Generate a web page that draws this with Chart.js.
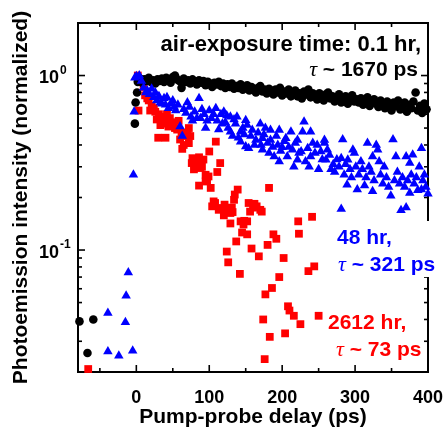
<!DOCTYPE html>
<html><head><meta charset="utf-8">
<script src="https://cdn.jsdelivr.net/npm/chart.js@4.4.0/dist/chart.umd.min.js"></script>
<style>html,body{margin:0;padding:0;background:#fff;overflow:hidden}#wrap{width:444px;height:428px;position:relative}</style>
</head><body><div id="wrap"><canvas id="c" width="444" height="428"></canvas></div>
<script>
// ---- axis definitions ----
const xTickValues = [0, 100, 200, 300, 400];
const xMinorTicks = [-50, 50, 150, 250, 350];
const yMajorTicks = [0.1, 1];
const yTickBase = '10';
const yTickExponents = ['-1', '0'];
const yMinorTicks = [0.03,0.04,0.05,0.06,0.07,0.08,0.09,0.2,0.3,0.4,0.5,0.6,0.7,0.8,0.9,2];
const xTitle = 'Pump-probe delay (ps)';
const yTitle = 'Photoemission intensity (normalized)';

// ---- series: 0.1 hr (black circles) ----
const blackPoints = [
[-78,0.039],[-67,0.0257],[-59,0.040],[-2,0.53],[-1,0.70],[1,0.80],[2,0.92],
[5,0.96],[8,0.91],[11,0.95],[14,0.93],[17,0.97],[20,0.92],[23,0.94],[26,0.90],[29,0.95],[32,0.93],
[35,0.96],[38,0.92],[41,0.97],[44,0.94],[47,0.91],[50,0.98],[53,1.00],[56,0.95],[59,0.93],[62,0.85],
[65,0.96],[68,0.92],[71,0.94],[74,0.90],[77,0.95],[80,0.93],[83,0.89],[86,0.94],[89,0.91],[92,0.93],
[95,0.88],[98,0.92],[101,0.90],[104,0.86],[107,0.91],[110,0.89],[113,0.92],[116,0.87],[119,0.90],[122,0.85],
[125,0.89],[128,0.86],[131,0.90],[134,0.84],[137,0.87],[140,0.85],[143,0.89],[146,0.83],[149,0.86],[152,0.88],
[155,0.82],[158,0.86],[161,0.84],[164,0.80],[167,0.85],[170,0.87],[173,0.81],[176,0.83],[179,0.79],[182,0.84],
[185,0.82],[188,0.78],[191,0.83],[194,0.80],[197,0.85],[200,0.77],[203,0.81],[206,0.79],[209,0.83],[212,0.76],
[215,0.80],[218,0.82],[221,0.76],[224,0.79],[227,0.74],[230,0.81],[233,0.78],[236,0.83],[239,0.75],[242,0.79],
[245,0.77],[248,0.73],[251,0.79],[254,0.75],[257,0.72],[260,0.78],[263,0.80],[266,0.74],[269,0.76],[272,0.71],
[275,0.75],[278,0.78],[281,0.70],[284,0.73],[287,0.76],[290,0.69],[293,0.74],[296,0.77],[299,0.71],[302,0.73],
[305,0.70],[308,0.74],[311,0.68],[314,0.72],[317,0.75],[320,0.67],[323,0.71],[326,0.73],[329,0.69],[332,0.66],
[335,0.72],[338,0.68],[341,0.65],[344,0.71],[347,0.69],[350,0.63],[353,0.70],[356,0.67],[359,0.72],[362,0.64],
[365,0.66],[368,0.70],[371,0.62],[374,0.68],[377,0.65],[380,0.71],[383,0.80],[386,0.63],[389,0.67],[392,0.61],
[395,0.69],[398,0.64]
];

// ---- series: 48 hr (blue triangles) ----
const bluePoints = [
[-39,0.0435],[-39,0.0262],[-24,0.0248],[-15,0.0385],[-14,0.0547],[-11,0.0743],[-5,0.0265],[-4,0.27],[-3,0.62],[-2,0.97],[0,0.99],[4,1.0],
[7,0.93],[10,0.85],[13,0.80],[15,0.82],[18,0.78],[21,0.84],[24,0.75],[26,0.80],[28,0.72],[31,0.76],[33,0.70],[35,0.69],[38,0.74],[40,0.68],
[42,0.75],[44,0.65],[47,0.69],[50,0.72],[52,0.66],[54,0.63],[57,0.68],[60,0.51],[63,0.45],[65,0.64],[68,0.61],[70,0.70],[73,0.66],[75,0.58],
[77,0.55],[80,0.62],[83,0.57],[86,0.74],[88,0.57],[90,0.64],[93,0.60],[95,0.50],[97,0.55],[100,0.63],[103,0.57],[106,0.60],[109,0.65],[111,0.55],
[113,0.49],[116,0.60],[118,0.53],[120,0.62],[122,0.54],[124,0.59],[126,0.50],[129,0.58],[129,0.476],[132,0.45],[134,0.56],[136,0.53],[138,0.58],
[140,0.44],[143,0.476],[143,0.418],[146,0.50],[148,0.46],[150,0.555],[150,0.392],[152,0.52],[154,0.383],[157,0.45],[159,0.487],[162,0.40],
[164,0.427],[167,0.47],[170,0.53],[171,0.40],[173,0.437],[173,0.375],[175,0.46],[177,0.50],[180,0.41],[182,0.36],[184,0.487],[184,0.427],
[187,0.39],[189,0.343],[192,0.45],[194,0.40],[196,0.487],[196,0.322],[198,0.37],[200,0.388],[203,0.42],[205,0.437],[207,0.343],[209,0.39],
[212,0.476],[214,0.375],[216,0.30],[218,0.41],[221,0.427],[221,0.329],[223,0.36],[226,0.367],[228,0.476],[230,0.543],[232,0.322],[235,0.383],
[237,0.30],[239,0.476],[239,0.343],[242,0.41],[245,0.36],[248,0.40],[250,0.29],[253,0.367],[255,0.33],[258,0.427],[258,0.41],[260,0.329],
[262,0.375],[265,0.35],[267,0.29],[270,0.31],[272,0.28],[275,0.33],[278,0.30],[281,0.336],[281,0.172],[283,0.43],[285,0.27],[287,0.31],
[289,0.237],[290,0.329],[293,0.29],[295,0.26],[297,0.375],[299,0.36],[301,0.30],[303,0.222],[305,0.27],[308,0.322],[310,0.29],[313,0.234],
[315,0.26],[317,0.41],[319,0.30],[322,0.28],[324,0.343],[324,0.217],[326,0.25],[329,0.40],[331,0.375],[333,0.322],[335,0.27],[338,0.24],
[340,0.30],[343,0.26],[346,0.23],[349,0.205],[352,0.43],[354,0.25],[356,0.343],[358,0.28],[361,0.24],[363,0.169],[365,0.26],[368,0.23],
[370,0.175],[370,0.343],[372,0.25],[375,0.315],[375,0.212],[377,0.27],[379,0.351],[381,0.24],[384,0.26],[386,0.22],[388,0.30],[391,0.383],
[391,0.222],[393,0.25],[395,0.27],[397,0.23],[400,0.21]
];

// ---- series: 2612 hr (red squares) ----
const redPoints = [
[-66,0.0208],
[2,1.0],[3,0.63],[6,0.92],[10,0.86],[12,0.77],[15,0.74],[17,0.72],[19,0.63],[21,0.67],[24,0.65],[26,0.62],[28,0.56],[30,0.44],[31,0.60],
[33,0.52],[35,0.53],[37,0.58],[40,0.44],[40,0.56],[42,0.60],[44,0.51],[46,0.57],[48,0.54],[51,0.53],[53,0.50],[56,0.49],[58,0.55],[60,0.43],
[62,0.47],[63,0.38],[65,0.40],[67,0.45],[70,0.47],[72,0.41],[72,0.50],[74,0.45],[76,0.315],[77,0.336],[79,0.29],[80,0.31],[82,0.30],[84,0.32],
[86,0.234],[86,0.34],[88,0.295],[90,0.30],[92,0.33],[95,0.27],[95,0.247],[97,0.25],[99,0.264],[100,0.367],[102,0.227],[104,0.178],[106,0.19],
[108,0.186],[109,0.418],[111,0.28],[113,0.17],[115,0.315],[116,0.174],[118,0.173],[120,0.158],[121,0.182],[124,0.098],[125,0.166],[126,0.085],
[129,0.142],[129,0.163],[131,0.175],[132,0.165],[134,0.194],[135,0.208],[137,0.112],[139,0.222],[142,0.073],[143,0.146],[145,0.126],[147,0.14],
[148,0.147],[152,0.123],[152,0.146],[154,0.186],[156,0.166],[158,0.102],[160,0.175],[162,0.184],[165,0.178],[168,0.092],[170,0.17],[172,0.166],
[174,0.040],[176,0.0237],[177,0.0557],[180,0.107],[182,0.227],[183,0.0318],[186,0.0606],[188,0.123],[192,0.116],[196,0.070],[202,0.090],
[204,0.0333],[208,0.0476],[210,0.045],[216,0.042],[222,0.146],[223,0.124],[225,0.0376],[236,0.0757],[241,0.155],[244,0.0806],[250,0.042]
];

// ---- annotations ----
const labelBlackLine1 = 'air-exposure time: 0.1 hr,';
const labelBlackLine2 = ' ~ 1670 ps';
const labelBlueLine1 = '48 hr,';
const labelBlueLine2 = ' ~ 321 ps';
const labelRedLine1 = '2612 hr,';
const labelRedLine2 = ' ~ 73 ps';
const tauSymbol = 'τ';

const SANS = "'Liberation Sans', Arial, sans-serif";
const SERIF = "'Liberation Serif', 'Times New Roman', serif";
const toXY = a => a.map(p => ({x: p[0], y: p[1]}));

function drawSegs(ctx, segs, x, y, align) {
  let total = 0;
  segs.forEach(s => { ctx.font = s.f; s.w = ctx.measureText(s.t).width; total += s.w; });
  let cx = align === 'right' ? x - total : x;
  ctx.textAlign = 'left'; ctx.textBaseline = 'middle';
  segs.forEach(s => { ctx.font = s.f; ctx.fillStyle = s.c; ctx.fillText(s.t, cx, y); cx += s.w; });
}

const framePlugin = {
  id: 'frame',
  beforeDatasetsDraw(chart) {
    const {ctx, chartArea: a, scales: {x, y}} = chart;
    ctx.save();
    ctx.strokeStyle = '#000'; ctx.lineWidth = 2; ctx.lineCap = 'butt';
    ctx.strokeRect(a.left, a.top, a.right - a.left, a.bottom - a.top);
    ctx.lineWidth = 1.6;
    const tick = (x1, y1, x2, y2) => { ctx.beginPath(); ctx.moveTo(x1, y1); ctx.lineTo(x2, y2); ctx.stroke(); };
    xTickValues.forEach(v => { const px = x.getPixelForValue(v); tick(px, a.bottom, px, a.bottom - 7); tick(px, a.top, px, a.top + 7); });
    xMinorTicks.forEach(v => { const px = x.getPixelForValue(v); tick(px, a.bottom, px, a.bottom - 4); tick(px, a.top, px, a.top + 4); });
    yMajorTicks.forEach(v => { const py = y.getPixelForValue(v); tick(a.left, py, a.left + 7, py); tick(a.right, py, a.right - 7, py); });
    yMinorTicks.forEach(v => { const py = y.getPixelForValue(v); tick(a.left, py, a.left + 4, py); tick(a.right, py, a.right - 4, py); });
    // y tick labels with superscript exponents
    ctx.fillStyle = '#000';
    yMajorTicks.forEach((v, i) => {
      const py = y.getPixelForValue(v);
      ctx.font = 'bold 18px ' + SANS; ctx.textAlign = 'right'; ctx.textBaseline = 'middle';
      ctx.fillText(yTickBase, a.left - 19, py + 3);
      ctx.font = 'bold 12px ' + SANS; ctx.textAlign = 'left';
      ctx.fillText(yTickExponents[i], a.left - 18, py - 5);
    });
    ctx.restore();
  },
  afterDraw(chart) {
    const {ctx, chartArea: a} = chart;
    ctx.save();
    const big = 'bold 21px ' + SANS;
    const big22 = 'bold 22px ' + SANS;
    const tau = 'italic 22px ' + SERIF;
    // black label
    drawSegs(ctx, [{t: labelBlackLine1, f: big22, c: '#000'}], a.right - 7, a.top + 22, 'right');
    drawSegs(ctx, [{t: tauSymbol, f: tau, c: '#000'}, {t: labelBlackLine2, f: big, c: '#000'}], a.right - 10, a.top + 47, 'right');
    // blue label with white box
    ctx.fillStyle = '#fff';
    ctx.fillRect(a.left + 256, a.top + 198, 200, 56);
    drawSegs(ctx, [{t: labelBlueLine1, f: big, c: '#0000ff'}], a.left + 259, a.top + 215, 'left');
    drawSegs(ctx, [{t: tauSymbol, f: tau, c: '#0000ff'}, {t: labelBlueLine2, f: big, c: '#0000ff'}], a.left + 260, a.top + 242, 'left');
    // red label
    drawSegs(ctx, [{t: labelRedLine1, f: big, c: '#ff0000'}], a.left + 250, a.top + 300, 'left');
    drawSegs(ctx, [{t: tauSymbol, f: tau, c: '#ff0000'}, {t: labelRedLine2, f: big, c: '#ff0000'}], a.left + 258, a.top + 327, 'left');
    ctx.restore();
  }
};

new Chart(document.getElementById('c'), {
  type: 'scatter',
  data: {
    datasets: [
      {label: '48 hr', data: toXY(bluePoints), pointStyle: 'triangle', pointRadius: 5.5, backgroundColor: '#0000ff', borderWidth: 0, clip: false},
      {label: '0.1 hr', data: toXY(blackPoints), pointStyle: 'circle', pointRadius: 4.3, backgroundColor: '#000000', borderWidth: 0, clip: false},
      {label: '2612 hr', data: toXY(redPoints), pointStyle: 'rect', pointRadius: 5.5, backgroundColor: '#ff0000', borderWidth: 0, clip: false}
    ]
  },
  options: {
    responsive: false, devicePixelRatio: 1, animation: false, events: [],
    layout: {padding: {top: 23, right: 16, left: 0, bottom: 0}, autoPadding: false},
    plugins: {legend: {display: false}, tooltip: {enabled: false}},
    scales: {
      x: {
        type: 'linear', min: -80, max: 400,
        grid: {display: false}, border: {display: false},
        afterBuildTicks: s => { s.ticks = xTickValues.map(v => ({value: v})); },
        afterFit: s => { s.height = 56; s.paddingLeft = 0; s.paddingRight = 0; },
        ticks: {color: '#000', font: {family: SANS, size: 18, weight: 'bold'}, padding: 7, maxRotation: 0, autoSkip: false},
        title: {display: true, text: xTitle, color: '#000', font: {family: SANS, size: 21, weight: 'bold', lineHeight: 1}, padding: {top: 0, bottom: 0}}
      },
      y: {
        type: 'logarithmic', min: 0.02, max: 2,
        grid: {display: false}, border: {display: false},
        afterBuildTicks: s => { s.ticks = yMajorTicks.map(v => ({value: v})); },
        afterFit: s => { s.width = 78; s.paddingTop = 0; s.paddingBottom = 0; },
        ticks: {display: false},
        title: {display: true, text: yTitle, color: '#000', font: {family: SANS, size: 21, weight: 'bold', lineHeight: 1}, padding: {top: 10.5, bottom: 0}}
      }
    }
  },
  plugins: [framePlugin]
});
</script></body></html>
